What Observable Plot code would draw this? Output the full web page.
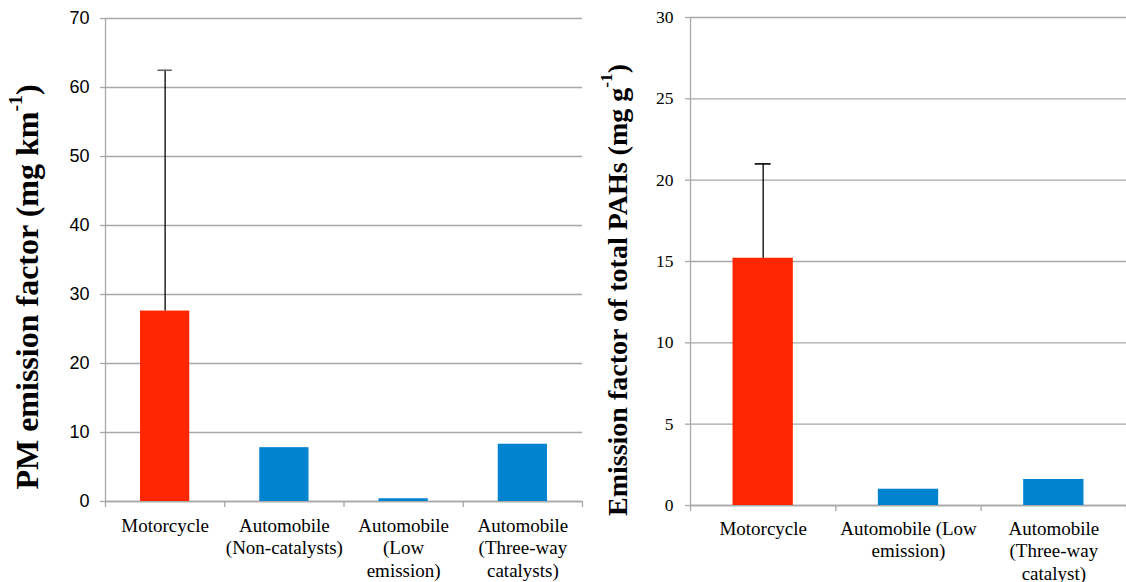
<!DOCTYPE html>
<html>
<head>
<meta charset="utf-8">
<script src="https://cdn.jsdelivr.net/npm/d3@7"></script>
<script src="https://cdn.jsdelivr.net/npm/@observablehq/plot@0.6"></script>
<style>
  body { margin: 0; background: #fff; }
  #wrap { display: flex; width: 1126px; height: 582px; }
</style>
</head>
<body>
<div id="wrap"></div>
<script>
// Left chart: PM emission factor
const pmCategories = ["Motorcycle", "Automobile\n(Non-catalysts)", "Automobile\n(Low\nemission)", "Automobile\n(Three-way\ncatalysts)"];
const pmValues = [27.6, 7.8, 0.4, 8.3];
const pmErrorTop = [62.5, null, null, null];
const pmColors = ["#ff2600", "#0084cf", "#0084cf", "#0084cf"];
const pmTicks = [0, 10, 20, 30, 40, 50, 60, 70];

// Right chart: total PAHs emission factor
const pahCategories = ["Motorcycle", "Automobile (Low\nemission)", "Automobile\n(Three-way\ncatalyst)"];
const pahValues = [15.2, 1.0, 1.6];
const pahErrorTop = [21.0, null, null];
const pahColors = ["#ff2600", "#0084cf", "#0084cf"];
const pahTicks = [0, 5, 10, 15, 20, 25, 30];

const gridColor = "#a8a8a8";
const SERIF = "'Liberation Serif', 'Times New Roman', 'DejaVu Serif', serif";
const SANS = "'Liberation Sans', Arial, sans-serif";

function makeChart({cats, vals, errs, colors, ticks, width, marginLeft, marginRight, marginTop, marginBottom, yMax, inset, capHalf, tickFont, tickSizeFont, tickPad, capColor, labelDy}) {
  const rows = cats.map((c, i) => ({i, c, v: vals[i], e: errs[i], col: colors[i]}));
  const errRows = rows.filter(d => d.e != null);
  const n = cats.length;
  const bounds = d3.range(n + 1);
  return Plot.plot({
    width, height: 582,
    marginLeft, marginRight, marginTop, marginBottom,
    x: {domain: [0, n], axis: null},
    y: {domain: [0, yMax], axis: null},
    style: {background: "#fff", color: "#000", fontFamily: SERIF},
    marks: [
      Plot.gridY(ticks, {stroke: gridColor, strokeOpacity: 1, strokeWidth: 1.3}),
      Plot.ruleX([0], {stroke: gridColor, strokeWidth: 1.3}),
      Plot.ruleY([0], {stroke: gridColor, strokeWidth: 1.3}),
      Plot.axisY({ticks, tickSize: 5, tickPadding: tickPad, stroke: gridColor, strokeWidth: 1.3,
        fontFamily: tickFont, fontSize: tickSizeFont, fill: "#000", label: null}),
      Plot.axisX({ticks: bounds, tickSize: 6, tickFormat: () => "", stroke: gridColor, strokeWidth: 1.3, label: null}),
      Plot.rectY(rows, {x1: d => d.i, x2: d => d.i + 1, y: "v", fill: "col", insetLeft: inset, insetRight: inset}),
      Plot.ruleX(errRows, {x: d => d.i + 0.5, y1: "v", y2: "e", stroke: "#000", strokeWidth: 1.3}),
      Plot.ruleY(errRows, {y: "e", x1: d => d.i + 0.5 - capHalf, x2: d => d.i + 0.5 + capHalf, stroke: capColor, strokeWidth: 1.6}),
      Plot.text(rows, {x: d => d.i + 0.5, frameAnchor: "bottom", dy: labelDy, text: "c", lineAnchor: "top",
        lineHeight: 1.2, fontFamily: SERIF, fontSize: 19, fill: "#000"})
    ]
  });
}

function addTitle(svg, {x, y, main, sup, size}) {
  const t = d3.select(svg).append("text")
    .attr("transform", `translate(${x},${y}) rotate(-90)`)
    .attr("text-anchor", "middle")
    .attr("dominant-baseline", "central")
    .style("font-family", SERIF)
    .style("font-weight", "bold")
    .style("font-size", size + "px")
    .attr("fill", "#000");
  t.append("tspan").text(main);
  t.append("tspan").style("font-size", (size * 0.62) + "px").attr("dy", -size * 0.38).text(sup);
  t.append("tspan").attr("dy", size * 0.38).text(")");
}

const left = makeChart({cats: pmCategories, vals: pmValues, errs: pmErrorTop, colors: pmColors, ticks: pmTicks,
  width: 590, marginLeft: 105, marginRight: 8, marginTop: 18, marginBottom: 81, yMax: 70,
  inset: 35, capHalf: 0.06, tickFont: SANS, tickSizeFont: 18, tickPad: 11, capColor: "#666", labelDy: 14});
addTitle(left, {x: 27, y: 287, main: "PM emission factor (mg km", sup: "-1", size: 32});

const right = makeChart({cats: pahCategories, vals: pahValues, errs: pahErrorTop, colors: pahColors, ticks: pahTicks,
  width: 536, marginLeft: 100, marginRight: 0, marginTop: 17, marginBottom: 77, yMax: 30,
  inset: 42.5, capHalf: 0.055, tickFont: SERIF, tickSizeFont: 17.5, tickPad: 12, capColor: "#000", labelDy: 13});
addTitle(right, {x: 27, y: 290, main: "Emission factor of total PAHs (mg g", sup: "-1", size: 28});

document.getElementById("wrap").append(left, right);
</script>
</body>
</html>
